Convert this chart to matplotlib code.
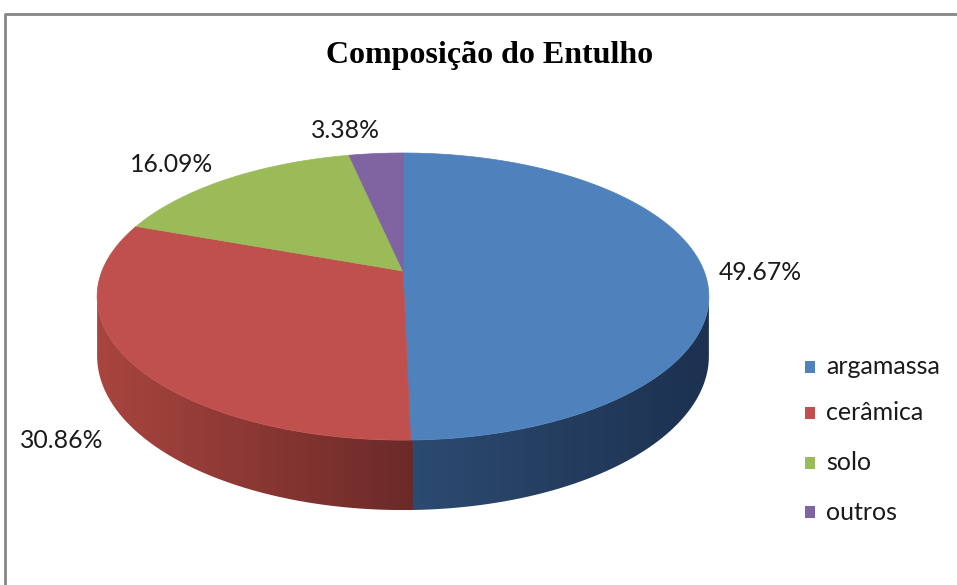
import numpy as np
import matplotlib
matplotlib.use("Agg")
import matplotlib.pyplot as plt
from matplotlib.patches import Polygon, Rectangle
from matplotlib.lines import Line2D

# ---- data ----
categories = ["argamassa", "cerâmica", "solo", "outros"]
values = [49.67, 30.86, 16.09, 3.38]
labels = ["49.67%", "30.86%", "16.09%", "3.38%"]

# ---- style ----
top_colors = ["#4F81BD", "#C0504D", "#9BBB59", "#8064A2"]
side_light = ["#2C4B71", "#A9453F", "#7E9A48", "#6A5288"]
side_dark = ["#1D3150", "#6B2A28", "#5A7033", "#4C3A63"]

W, Hh = 957, 585
fig = plt.figure(figsize=(W / 100, Hh / 100), dpi=100)
ax = fig.add_axes([0, 0, 1, 1])
ax.set_xlim(0, W)
ax.set_ylim(Hh, 0)
ax.axis("off")

# perspective ellipse geometry (pixel space)
cx, cy = 403, 271
rx, a, k = 301, 139, 0.178
H = 57.5


def proj(theta, depth=0.0):
    s, c = np.sin(theta), np.cos(theta)
    d = 1 + k * c
    return cx + rx * s / d, cy - a * c / d + depth * H / d


def hexrgb(h):
    return np.array(matplotlib.colors.to_rgb(h))


fr = np.array(values) / np.sum(values)
bounds = np.concatenate([[0], np.cumsum(fr)]) * 2 * np.pi
vis_lo = np.arccos(-k)
vis_hi = 2 * np.pi - np.arccos(-k)
eps = 0.006

# side walls with horizontal gradient
for i in range(len(values)):
    t0 = max(bounds[i] - eps, vis_lo)
    t1 = min(bounds[i + 1] + eps, vis_hi)
    if t1 <= t0:
        continue
    ts = np.linspace(t0, t1, 300)
    top = [proj(t) for t in ts]
    bot = [proj(t, 1) for t in ts[::-1]]
    pts = np.array(top + bot)
    xmin, xmax = pts[:, 0].min(), pts[:, 0].max()
    ymin, ymax = pts[:, 1].min(), pts[:, 1].max()
    cl, cd = hexrgb(side_light[i]), hexrgb(side_dark[i])
    f = np.linspace(0, 1, 256)
    grad = (cl[None, :] * (1 - f[:, None]) + cd[None, :] * f[:, None])[None, :, :]
    poly = Polygon(pts, closed=True, facecolor="none", edgecolor="none")
    ax.add_patch(poly)
    im = ax.imshow(grad, extent=(xmin, xmax, ymax, ymin), aspect="auto",
                   interpolation="bilinear", zorder=1)
    im.set_clip_path(poly)

ax.set_xlim(0, W)
ax.set_ylim(Hh, 0)

# top face
for i in range(len(values)):
    ts = np.linspace(bounds[i], bounds[i + 1], 200)
    pts = [(cx, cy)] + [proj(t) for t in ts]
    ax.add_patch(Polygon(pts, closed=True, facecolor=top_colors[i],
                         edgecolor=top_colors[i], linewidth=0.5, zorder=2))

# data labels
lab_pos = [(760, 272), (62, 440), (172, 165), (345, 130)]
for lab, (x, y) in zip(labels, lab_pos):
    ax.text(x, y, lab, ha="center", va="center", fontsize=17.8,
            family="Lato", color="#1a1a1a", zorder=3)

# title
ax.text(490, 55, "Composição do Entulho", ha="center", va="center",
        fontsize=23, fontweight="bold", family="Liberation Serif", zorder=3)

# legend
leg_y = [367, 413, 463, 512]
for cat, col, y in zip(categories, top_colors, leg_y):
    ax.add_patch(Rectangle((805, y - 6), 10, 12, facecolor=col,
                           edgecolor="none", zorder=3))
    ax.text(826, y, cat, ha="left", va="center", fontsize=18,
            family="Lato", color="#1a1a1a", zorder=3)

# frame
ax.add_line(Line2D([5, 5, W + 5], [Hh + 5, 14, 14], color="#868686",
                   linewidth=2, zorder=4))

fig.savefig("out.png", dpi=100)
